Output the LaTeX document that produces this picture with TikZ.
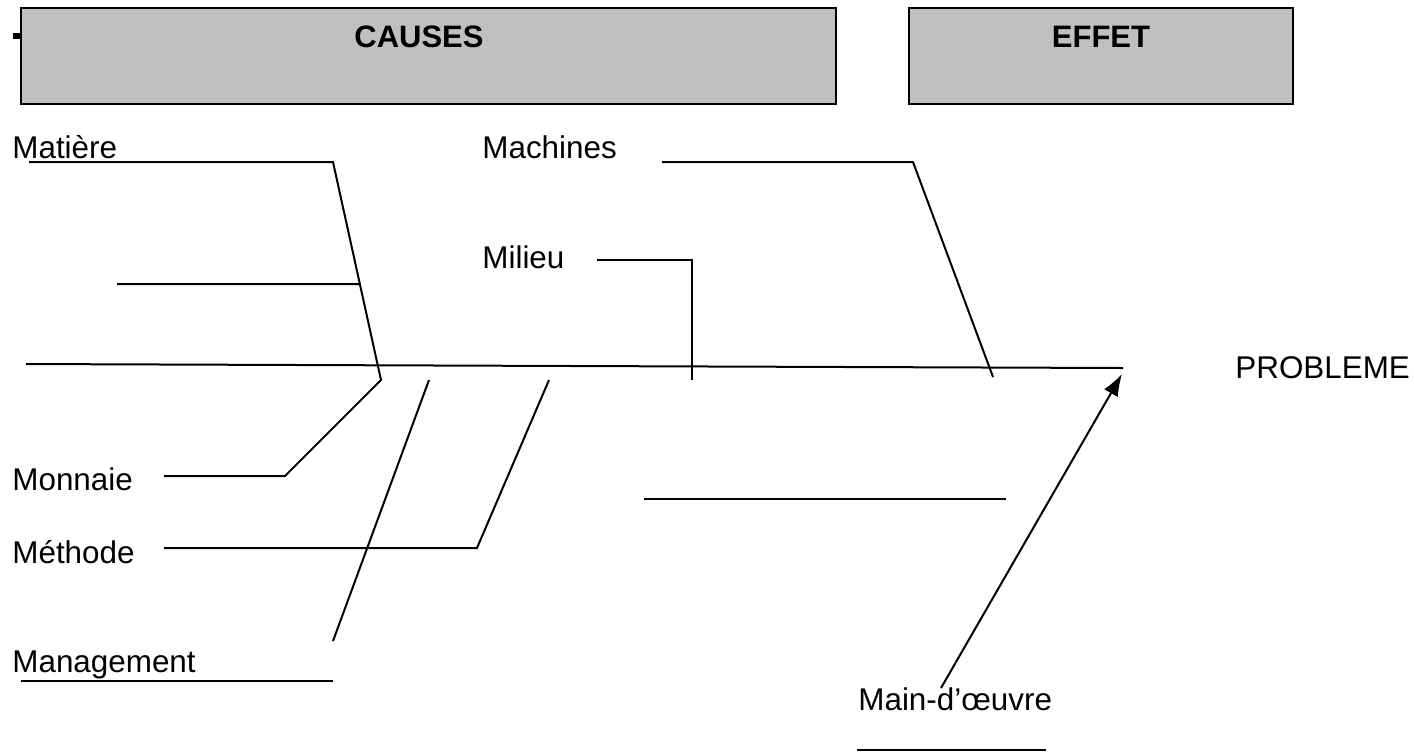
\documentclass[tikz,border=0pt]{standalone}
\usepackage{fontspec}
\setmainfont{Liberation Sans}
\usetikzlibrary{arrows.meta,calc}
\definecolor{headgray}{RGB}{192,192,192}
\begin{document}
\begin{tikzpicture}[x=0.5pt,y=-0.5pt,
  branch/.style={line width=1pt, line join=miter},
  lbl/.style={anchor=base west, inner sep=0pt, font=\fontsize{15.7}{18}\selectfont},
  hdrbox/.style={draw=black, line width=1.3pt, fill=headgray, inner sep=0pt},
  hdrtext/.style={anchor=base, inner sep=0pt, font=\bfseries\fontsize{15.5}{18}\selectfont}]
\useasboundingbox (0,0) rectangle (1414,752);

% header boxes
\node[hdrbox, minimum width=407.5pt, minimum height=48pt] (causesbox) at (428.5,56) {};
\node[hdrbox, minimum width=192pt, minimum height=48pt] (effetbox) at (1101,56) {};
\node[hdrtext] (causes) at (419,47) {CAUSES};
\node[hdrtext] (effet) at (1101,47) {EFFET};
\node[fill=black, minimum width=4pt, minimum height=3pt, inner sep=0pt] (tick) at (17,36) {};

% labels
\node[lbl] (matiere) at (12,158) {Matière};
\node[lbl] (machines) at (482,158) {Machines};
\node[lbl] (milieu) at (482,268) {Milieu};
\node[lbl] (monnaie) at (12,490) {Monnaie};
\node[lbl] (methode) at (12,563) {Méthode};
\node[lbl] (management) at (12,672) {Management};
\node[lbl] (maindoeuvre) at (858,710) {Main-d’œuvre};
\node[lbl] (probleme) at (1235,378) {PROBLEME};

% main spine
\coordinate (mainL) at (26,364);
\coordinate (mainR) at (1123,368);
\draw[branch] (mainL) -- (mainR);

% Matiere / Monnaie
\coordinate (mtA) at (29,162);
\coordinate (mtB) at (333,162);
\coordinate (mtC) at (381,380);
\coordinate (mnB) at (285,476);
\coordinate (mnA) at (164,476);
\draw[branch] (mtA) -- (mtB) -- (mtC) -- (mnB) -- (mnA);
\coordinate (subA) at (117,284);
\coordinate (subB) at ($(mtB)!0.56!(mtC)$);
\draw[branch] (subA) -- (subB);

% Management
\coordinate (mgA) at (21,681);
\coordinate (mgB) at (333,681);
\coordinate (mgS) at (333,641);
\coordinate (mgC) at (429,380);
\draw[branch] (mgA) -- (mgB);
\draw[branch] (mgS) -- (mgC);

% Methode
\coordinate (meA) at (164,548);
\coordinate (meB) at (477,548);
\coordinate (meC) at (549,380);
\draw[branch] (meA) -- (meB) -- (meC);

% Milieu
\coordinate (miA) at (597,260);
\coordinate (miB) at (692,260);
\coordinate (miC) at (692,380);
\draw[branch] (miA) -- (miB) -- (miC);

% Machines
\coordinate (maA) at (662,162);
\coordinate (maB) at (913,162);
\coordinate (maC) at (993,377);
\draw[branch] (maA) -- (maB) -- (maC);

% lower free branch
\coordinate (loA) at (644,499);
\coordinate (loB) at (1006,499);
\draw[branch] (loA) -- (loB);

% Main-d'oeuvre
\coordinate (mdStart) at (941,688);
\coordinate (mdTip) at (1122,374);
\draw[branch, -{Latex[length=11pt,width=8pt]}] (mdStart) -- (mdTip);
\coordinate (mdU1) at (857,750);
\coordinate (mdU2) at (1046,750);
\draw[branch] (mdU1) -- (mdU2);
\end{tikzpicture}
\end{document}
